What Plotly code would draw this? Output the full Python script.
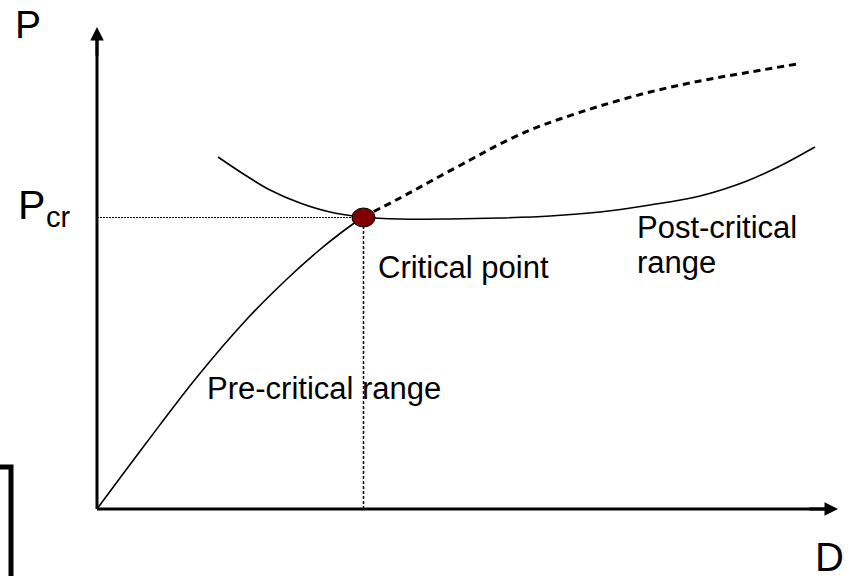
import plotly.graph_objects as go

# ---- data (D = deflection, P = load; arbitrary units) ----
pre_D = [0, 0.50, 1.00, 1.50, 1.90, 2.20, 2.45, 2.66]
pre_P = [0, 0.67, 1.32, 1.90, 2.30, 2.57, 2.77, 2.92]

post_D = [1.21, 1.48, 1.73, 2.03, 2.33, 2.66, 3.03, 3.53, 4.03, 4.53, 5.03, 5.53, 6.03, 6.50, 6.83, 7.18]
post_P = [3.52, 3.34, 3.19, 3.06, 2.97, 2.92, 2.90, 2.90, 2.91, 2.93, 2.97, 3.04, 3.13, 3.28, 3.43, 3.62]

ideal_D = [2.66, 3.03, 3.36, 3.73, 4.03, 4.33, 4.63, 5.03, 5.53, 6.03, 6.53, 7.00]
ideal_P = [2.92, 3.11, 3.29, 3.49, 3.65, 3.79, 3.90, 4.03, 4.17, 4.28, 4.37, 4.45]

crit_D = 2.665
crit_P = 2.915

axis_D_end = 7.41
axis_P_end = 4.82

bracket_D = [-0.97, -0.86, -0.86]
bracket_P = [0.42, 0.42, -0.70]

x_range = [-0.97, 7.53]
y_range = [-0.67, 5.09]

FONT = "Liberation Sans, Arial, sans-serif"

fig = go.Figure()

# reference dotted lines
fig.add_trace(go.Scatter(x=[0, crit_D - 0.1], y=[crit_P, crit_P], mode="lines",
                         line=dict(color="black", width=1.2, dash="2px,1px")))
fig.add_trace(go.Scatter(x=[crit_D, crit_D], y=[0, crit_P], mode="lines",
                         line=dict(color="black", width=1.5, dash="3px,2px")))

# curves
fig.add_trace(go.Scatter(x=pre_D, y=pre_P, mode="lines", line_shape="spline",
                         line=dict(color="black", width=1.6)))
fig.add_trace(go.Scatter(x=post_D, y=post_P, mode="lines", line_shape="spline",
                         line=dict(color="black", width=1.6)))
fig.add_trace(go.Scatter(x=ideal_D, y=ideal_P, mode="lines", line_shape="spline",
                         line=dict(color="black", width=3, dash="7px,5px")))

# axes lines
fig.add_trace(go.Scatter(x=[0, 0], y=[0, axis_P_end - 0.1], mode="lines",
                         line=dict(color="black", width=3)))
fig.add_trace(go.Scatter(x=[0, axis_D_end - 0.1], y=[0, 0], mode="lines",
                         line=dict(color="black", width=3)))

# bracket decoration
fig.add_trace(go.Scatter(x=bracket_D, y=bracket_P, mode="lines",
                         line=dict(color="black", width=5)))

# critical point ellipse
fig.add_shape(type="circle", xref="x", yref="y",
              x0=crit_D - 0.115, x1=crit_D + 0.115,
              y0=crit_P - 0.095, y1=crit_P + 0.095,
              fillcolor="#800000", line=dict(color="black", width=1))

annotations = [
    # arrowheads
    dict(x=0, y=axis_P_end, ax=0, ay=axis_P_end - 0.3, xref="x", yref="y",
         axref="x", ayref="y", text="", showarrow=True, arrowhead=2,
         arrowsize=0.9, arrowwidth=3, arrowcolor="black"),
    dict(x=axis_D_end, y=0, ax=axis_D_end - 0.3, ay=0, xref="x", yref="y",
         axref="x", ayref="y", text="", showarrow=True, arrowhead=2,
         arrowsize=0.9, arrowwidth=3, arrowcolor="black"),
    # labels
    dict(x=-0.84, y=4.85, text="P", font=dict(size=39), xanchor="left", yanchor="middle"),
    dict(x=7.16, y=-0.48, text="D", font=dict(size=40), xanchor="left", yanchor="middle"),
    dict(x=-0.81, y=3.04, text="P", font=dict(size=41), xanchor="left", yanchor="middle"),
    dict(x=-0.53, y=2.92, text="cr", font=dict(size=29), xanchor="left", yanchor="middle"),
    dict(x=2.79, y=2.42, text="Critical point", font=dict(size=31), xanchor="left", yanchor="middle"),
    dict(x=1.08, y=1.21, text="Pre-critical range", font=dict(size=31), xanchor="left", yanchor="middle"),
    dict(x=5.38, y=2.82, text="Post-critical", font=dict(size=31), xanchor="left", yanchor="middle"),
    dict(x=5.38, y=2.47, text="range", font=dict(size=31), xanchor="left", yanchor="middle"),
]
for a in annotations:
    a.setdefault("xref", "x")
    a.setdefault("yref", "y")
    a.setdefault("showarrow", False)
    fig.add_annotation(**a)

fig.update_layout(
    width=850, height=576,
    margin=dict(l=0, r=0, t=0, b=0),
    paper_bgcolor="white", plot_bgcolor="white",
    showlegend=False, hovermode=False,
    font=dict(family=FONT, color="black"),
    xaxis=dict(range=x_range, visible=False, fixedrange=True),
    yaxis=dict(range=y_range, visible=False, fixedrange=True),
)

fig.write_html("out.html", config={"displayModeBar": False},
               post_script="document.body.style.margin='0';document.body.style.overflow='hidden';")
